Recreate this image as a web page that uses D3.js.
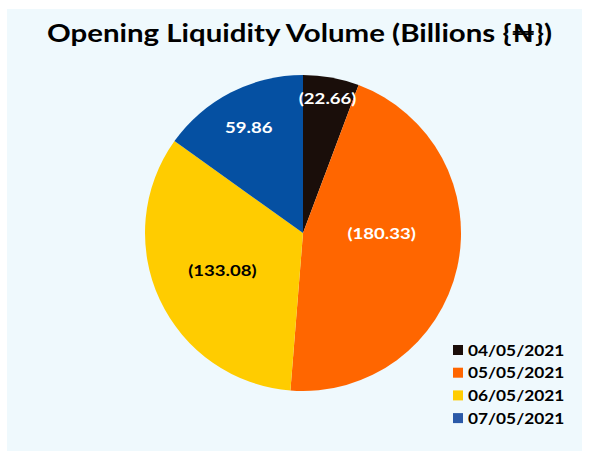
<!DOCTYPE html>
<html><head><meta charset="utf-8">
<script src="https://cdn.jsdelivr.net/npm/d3@7"></script>
<style>
html,body{margin:0;padding:0;background:#fff;}
svg{display:block;}
text{font-family:"Lato","DejaVu Sans",sans-serif;font-weight:bold;}
</style></head>
<body>
<script>
const title = "Opening Liquidity Volume (Billions {\u20A6})";
const categories = ["04/05/2021","05/05/2021","06/05/2021","07/05/2021"];
const values = [-22.66, -180.33, -133.08, 59.86];
const colors = ["#1a0e0a","#ff6600","#ffcc00","#0550a2"];
const legendColors = ["#1a0e0a","#ff6600","#ffcc00","#2b5aa8"];
const labelColors = ["#ffffff","#ffffff","#000000","#ffffff"];
const labelRadius = [0.87, 0.51, 0.563, 0.75];
const labelNudgeY = [0, -17, 0, 0];

const W = 589, H = 452;
const svg = d3.select("body").append("svg").attr("width", W).attr("height", H);
svg.append("rect").attr("x",7).attr("y",9).attr("width",575).attr("height",442).attr("fill","#eff9fd");

// stretch text horizontally to mimic the wide geometric face of the original
function widen(sel, factor){
  sel.each(function(){
    const w = this.getComputedTextLength();
    d3.select(this).attr("textLength", w*factor).attr("lengthAdjust","spacingAndGlyphs");
  });
}

svg.append("text").attr("x",299.5).attr("y",42).attr("text-anchor","middle")
  .attr("font-size",25).attr("fill","#000").text(title)
  .call(s=>s.each(function(){ d3.select(this).attr("textLength",505).attr("lengthAdjust","spacingAndGlyphs"); }));

const cx = 303, cy = 233, R = 158;
const data = categories.map((c,i)=>({cat:c, v:values[i], i}));
const pie = d3.pie().value(d=>Math.abs(d.v)).sort(null);
const arcs = pie(data);
const arc = d3.arc().innerRadius(0).outerRadius(R);
const g = svg.append("g").attr("transform",`translate(${cx},${cy})`);
g.selectAll("path").data(arcs).join("path").attr("d",arc).attr("fill",d=>colors[d.data.i]);

const fmt = v => v < 0 ? `(${d3.format(".2f")(-v)})` : d3.format(".2f")(v);
g.selectAll("text.lbl").data(arcs).join("text").attr("class","lbl")
  .attr("transform",d=>{
    const r = R*labelRadius[d.data.i];
    const a = (d.startAngle+d.endAngle)/2;
    return `translate(${r*Math.sin(a)},${-r*Math.cos(a)+labelNudgeY[d.data.i]})`;
  })
  .attr("text-anchor","middle").attr("dy","0.36em").attr("font-size",16)
  .attr("fill",d=>labelColors[d.data.i]).text(d=>fmt(d.data.v))
  .call(widen, 1.16);

const lg = svg.append("g").attr("transform","translate(453,350)");
const rows = lg.selectAll("g").data(data).join("g").attr("transform",(d,i)=>`translate(0,${i*22.7})`);
rows.append("rect").attr("x",0).attr("y",-5).attr("width",10).attr("height",10).attr("fill",d=>legendColors[d.i]);
rows.append("text").attr("x",15).attr("dy","0.36em").attr("font-size",16).attr("fill","#000").text(d=>d.cat)
  .call(widen, 1.08);
</script>
</body></html>
